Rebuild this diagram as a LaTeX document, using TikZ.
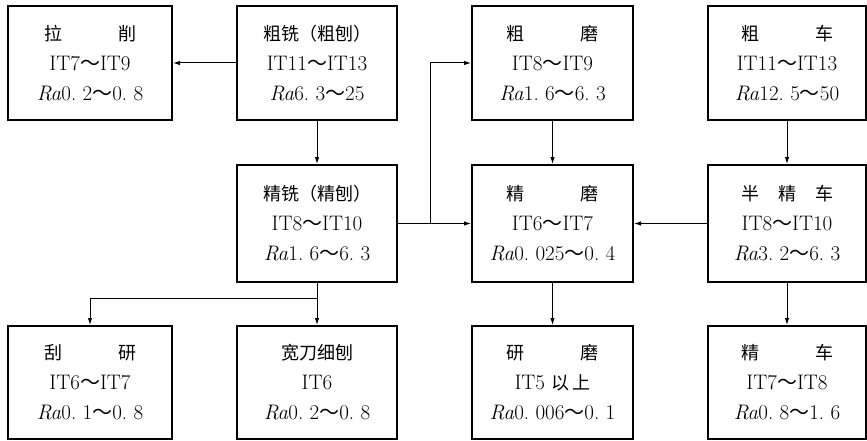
\documentclass[tikz,border=0pt]{standalone}
\usepackage{fontspec}
\newfontfamily\cjk{Noto Sans CJK SC}
\usetikzlibrary{arrows.meta}
\newcommand\zh[1]{{\cjk\fontsize{18}{30}\selectfont #1}}
\newcommand\wv{{\cjk\fontsize{20}{30}\selectfont ～}}
\newcommand\twozh[2]{\makebox[92pt]{\zh{#1}\hfill\zh{#2}}}
\newcommand\threezh[3]{\makebox[92pt]{\zh{#1}\hfill\zh{#2}\hfill\zh{#3}}}
\begin{document}
\begin{tikzpicture}[x=1pt,y=-1pt,
  box/.style={draw,line width=2pt,minimum width=160pt,inner sep=0pt,align=center,
    font=\fontsize{21}{30}\selectfont},
  rowa/.style={minimum height=114pt},
  rowb/.style={minimum height=117pt},
  rowc/.style={minimum height=113pt},
  link/.style={line width=1pt},
  arr/.style={line width=1pt,-{Latex[length=7pt,width=4.5pt]}}]
\useasboundingbox (0,0) rectangle (867,441);
% row 1
\node[box,rowa,minimum width=164pt] (ls) at (90,63) {\twozh{拉}{削}\\IT7\wv IT9\\\textit{Ra}0.\ 2\wv0.\ 8};
\node[box,rowa] (cx) at (317,63) {\zh{粗铣（粗刨）}\\IT11\wv IT13\\\textit{Ra}6.\ 3\wv25};
\node[box,rowa,minimum width=161pt] (cm) at (552.5,63) {\twozh{粗}{磨}\\IT8\wv IT9\\\textit{Ra}1.\ 6\wv6.\ 3};
\node[box,rowa,minimum width=158pt] (cc) at (787,63) {\twozh{粗}{车}\\IT11\wv IT13\\\textit{Ra}12.\ 5\wv50};
% row 2
\node[box,rowb] (jx) at (317,223.5) {\zh{精铣（精刨）}\\IT8\wv IT10\\\textit{Ra}1.\ 6\wv6.\ 3};
\node[box,rowb,minimum width=161pt] (jm) at (552.5,223.5) {\twozh{精}{磨}\\IT6\wv IT7\\\textit{Ra}0.\ 025\wv0.\ 4};
\node[box,rowb,minimum width=158pt] (bj) at (787,223.5) {\threezh{半}{精}{车}\\IT8\wv IT10\\\textit{Ra}3.\ 2\wv6.\ 3};
% row 3
\node[box,rowc,minimum width=164pt] (gy) at (90,382.5) {\twozh{刮}{研}\\IT6\wv IT7\\\textit{Ra}0.\ 1\wv0.\ 8};
\node[box,rowc] (kd) at (317,382.5) {\zh{宽刀细刨}\\IT6\\\textit{Ra}0.\ 2\wv0.\ 8};
\node[box,rowc,minimum width=161pt] (ym) at (552.5,382.5) {\twozh{研}{磨}\\IT5 \zh{以\,上}\\\textit{Ra}0.\ 006\wv0.\ 1};
\node[box,rowc,minimum width=158pt] (jc) at (787,382.5) {\twozh{精}{车}\\IT7\wv IT8\\\textit{Ra}0.\ 8\wv1.\ 6};
% connectors
\coordinate (br) at (430,223.5);
\coordinate (bt) at (317,298);
\draw[arr] (cx.west) -- (ls.east);
\draw[arr] (cx.south) -- (jx.north);
\draw[link] (jx.east) -- (br);
\draw[arr] (br) |- (cm.west);
\draw[arr] (br) -- (jm.west);
\draw[arr] (cm.south) -- (jm.north);
\draw[arr] (cc.south) -- (bj.north);
\draw[arr] (bj.west) -- (jm.east);
\draw[arr] (jm.south) -- (ym.north);
\draw[arr] (bj.south) -- (jc.north);
\draw[link] (jx.south) -- (bt);
\draw[arr] (bt) -| (gy.north);
\draw[arr] (bt) -- (kd.north);
\end{tikzpicture}
\end{document}
